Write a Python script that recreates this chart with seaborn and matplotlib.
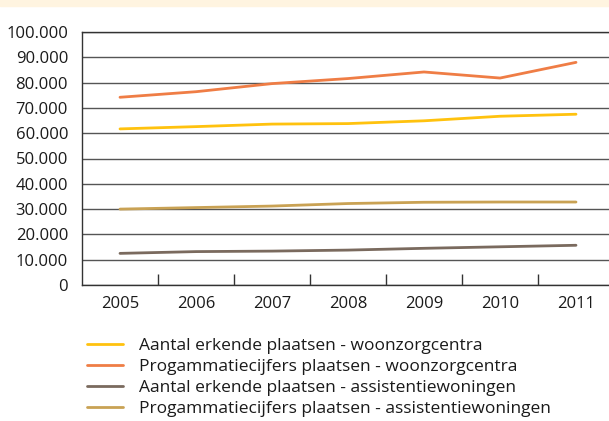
import matplotlib
matplotlib.use("Agg")
import matplotlib.pyplot as plt
import seaborn as sns
import pandas as pd
import numpy as np
from matplotlib.ticker import FuncFormatter, FixedLocator, MultipleLocator
from matplotlib.lines import Line2D

years = ["2005", "2006", "2007", "2008", "2009", "2010", "2011"]
erkend_wzc = [61700, 62600, 63600, 63800, 64900, 66700, 67500]
programmatie_wzc = [74200, 76400, 79600, 81600, 84200, 81800, 88000]
erkend_aw = [12500, 13200, 13400, 13800, 14500, 15100, 15700]
programmatie_aw = [30000, 30600, 31200, 32200, 32700, 32800, 32800]

series_names = [
    "Aantal erkende plaatsen - woonzorgcentra",
    "Progammatiecijfers plaatsen - woonzorgcentra",
    "Aantal erkende plaatsen - assistentiewoningen",
    "Progammatiecijfers plaatsen - assistentiewoningen",
]
series_values = [erkend_wzc, programmatie_wzc, erkend_aw, programmatie_aw]
colors = ["#FFC20E", "#EF7D45", "#7A6A5E", "#C9A254"]

rows = []
for name, vals in zip(series_names, series_values):
    for i, (yr, v) in enumerate(zip(years, vals)):
        rows.append({"pos": i, "year": yr, "value": v, "series": name})
df = pd.DataFrame(rows)

sns.set_theme(style="white")
plt.rcParams["font.family"] = ["Open Sans", "DejaVu Sans"]

fig = plt.figure(figsize=(6.09, 4.21), dpi=100)
fig.patches.append(plt.Rectangle((0, 1 - 6 / 421), 1, 6 / 421, transform=fig.transFigure,
                                 color="#FFF4E0", zorder=0))
ax = fig.add_axes([82 / 609, 136 / 421, 532 / 609, 253 / 421])

sns.lineplot(data=df, x="pos", y="value", hue="series", palette=colors,
             hue_order=series_names, linewidth=2.0, ax=ax, legend=False, zorder=3)

ax.set_xlim(-0.5, 6.5)
ax.set_ylim(0, 100000)
ax.yaxis.set_major_locator(MultipleLocator(10000))
ax.yaxis.set_major_formatter(FuncFormatter(lambda v, p: f"{int(v):,}".replace(",", ".")))
ax.grid(axis="y", color="#555555", linewidth=1.0, zorder=1)
ax.grid(axis="x", visible=False)

ax.xaxis.set_major_locator(FixedLocator(range(len(years))))
ax.set_xticklabels(years)
ax.xaxis.set_minor_locator(FixedLocator([i + 0.5 for i in range(len(years) - 1)]))
ax.tick_params(axis="x", which="major", length=0, pad=8, labelsize=12, colors="#1a1a1a")
ax.tick_params(axis="x", which="minor", length=8, width=1, direction="in", color="#333333", bottom=True)
ax.tick_params(axis="y", length=0, pad=10, labelsize=12, colors="#1a1a1a")
ax.set_xlabel("")
ax.set_ylabel("")

for s in ["left", "bottom", "top"]:
    ax.spines[s].set_visible(True)
    ax.spines[s].set_color("#333333")
    ax.spines[s].set_linewidth(1.0)
ax.spines["right"].set_visible(False)

handles = [Line2D([0], [0], color=c, linewidth=2.0) for c in colors]
fig.legend(handles, series_names, loc="upper left",
           bbox_to_anchor=(87 / 609, 1 - 338 / 421), frameon=False,
           fontsize=12.5, handlelength=2.1, handletextpad=0.9, labelspacing=0.27,
           borderpad=0, borderaxespad=0, labelcolor="#1a1a1a")

fig.savefig("out.png", dpi=100)
